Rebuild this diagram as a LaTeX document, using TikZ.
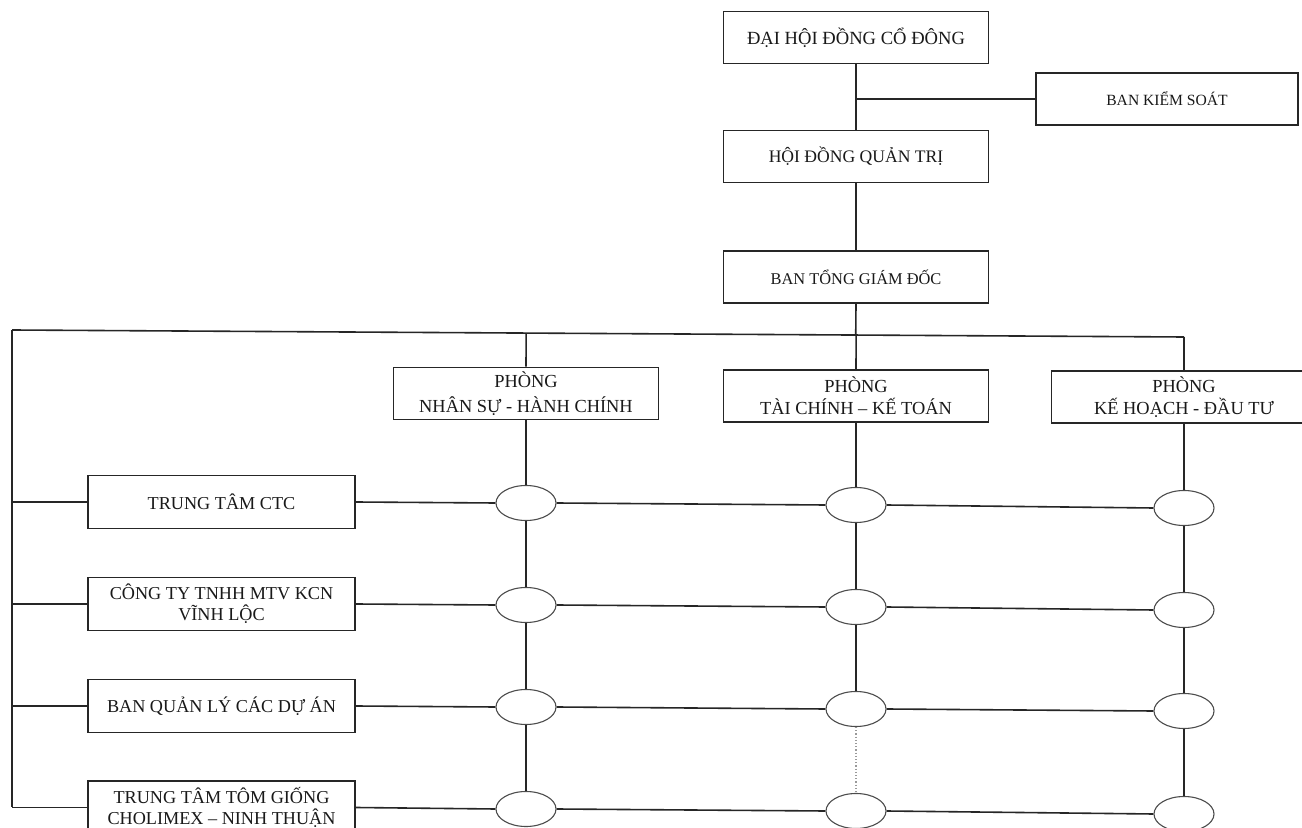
\documentclass[tikz,border=0pt]{standalone}
\usepackage{fontspec}
\setmainfont{Liberation Serif}
\usetikzlibrary{shapes.geometric,calc}
\begin{document}
\begin{tikzpicture}[x=0.5pt,y=-0.5pt,
  box/.style={draw=black!85, line width=0.8pt, inner sep=0pt, align=center, text=black!90},
  topbox/.style={box, minimum width=132.5pt, minimum height=26pt},
  deptbox/.style={box, minimum width=132.5pt, minimum height=26pt, font=\fontsize{9.2}{11}\selectfont},
  unitbox/.style={box, minimum width=133.5pt, minimum height=26.5pt, font=\fontsize{9.1}{10.5}\selectfont},
  oval/.style={ellipse, draw=black!70, line width=0.55pt, inner sep=0pt, minimum width=30pt, minimum height=17.5pt},
  conn/.style={draw=black!85, line width=0.8pt},
  faint/.style={draw=black!40, line width=0.6pt, densely dotted}]
\useasboundingbox (0,0) rectangle (1302,828);
\fill[white] (0,0) rectangle (1302,828);
\clip (0,0) rectangle (1302,828);

% top hierarchy
\node[topbox, font=\fontsize{9.3}{11}\selectfont] (dhd) at (856,37.5) {ĐẠI HỘI ĐỒNG CỔ ĐÔNG};
\node[topbox, font=\fontsize{8.8}{11}\selectfont] (hdqt) at (856,156.5) {HỘI ĐỒNG QUẢN TRỊ};
\node[topbox, font=\fontsize{8.2}{11}\selectfont] (btgd) at (856,277) {BAN TỔNG GIÁM ĐỐC};
\node[box, minimum width=131pt, minimum height=26pt, font=\fontsize{7.8}{9}\selectfont] (bks) at (1167,99) {BAN KIỂM SOÁT};

% departments
\node[deptbox, font=\fontsize{9.2}{12.5}\selectfont] (d1) at (526,393.5) {PHÒNG\\NHÂN SỰ - HÀNH CHÍNH};
\node[deptbox] (d2) at (856,396) {PHÒNG\\TÀI CHÍNH – KẾ TOÁN};
\node[deptbox] (d3) at (1184,397) {PHÒNG\\KẾ HOẠCH - ĐẦU TƯ};

% units
\node[unitbox] (u1) at (221.5,502) {TRUNG TÂM CTC};
\node[unitbox] (u2) at (221.5,604) {CÔNG TY TNHH MTV KCN\\VĨNH LỘC};
\node[unitbox] (u3) at (221.5,706) {BAN QUẢN LÝ CÁC DỰ ÁN};
\node[unitbox] (u4) at (221.5,807.5) {TRUNG TÂM TÔM GIỐNG\\CHOLIMEX – NINH THUẬN};

% ovals
\node[oval] (e11) at (526,503) {};
\node[oval] (e12) at (526,605) {};
\node[oval] (e13) at (526,707) {};
\node[oval] (e14) at (526,809) {};
\node[oval] (e21) at (856,505) {};
\node[oval] (e22) at (856,607) {};
\node[oval] (e23) at (856,709) {};
\node[oval] (e24) at (856,811) {};
\node[oval] (e31) at (1184,508) {};
\node[oval] (e32) at (1184,610) {};
\node[oval] (e33) at (1184,711) {};
\node[oval] (e34) at (1184,814) {};

% bus coordinates
\coordinate (bl) at (12,330);
\coordinate (br) at (1184,337);
\coordinate (lb) at (12,807);

% connectors: top
\draw[conn] (dhd.south) -- (hdqt.north);
\draw[conn] (hdqt.south) -- (btgd.north);
\draw[conn] (bks.west) -- (bks.west -| dhd.south);
\draw[conn] (btgd.south) -- ($(bl)!(btgd.south)!(br)$);
\draw[conn] (bl) -- (br);
\draw[conn] (d1.north) -- ($(bl)!(d1.north)!(br)$);
\draw[conn] (d2.north) -- ($(bl)!(d2.north)!(br)$);
\draw[conn] (d3.north) -- (br);

% left spine
\draw[conn] (bl) -- (lb);
\draw[conn] (u1.west) -- (u1.west -| bl);
\draw[conn] (u2.west) -- (u2.west -| bl);
\draw[conn] (u3.west) -- (u3.west -| bl);
\draw[conn] (u4.west) -- (u4.west -| bl);

% columns
\draw[conn] (d1.south) -- (e11.north);
\draw[conn] (e11.south) -- (e12.north);
\draw[conn] (e12.south) -- (e13.north);
\draw[conn] (e13.south) -- (e14.north);
\draw[conn] (d2.south) -- (e21.north);
\draw[conn] (e21.south) -- (e22.north);
\draw[conn] (e22.south) -- (e23.north);
\draw[faint] (e23.south) -- (e24.north);
\draw[conn] (d3.south) -- (e31.north);
\draw[conn] (e31.south) -- (e32.north);
\draw[conn] (e32.south) -- (e33.north);
\draw[conn] (e33.south) -- (e34.north);

% rows
\draw[conn] (u1.east) -- (e11.west);
\draw[conn] (e11.east) -- (e21.west);
\draw[conn] (e21.east) -- (e31.west);
\draw[conn] (u2.east) -- (e12.west);
\draw[conn] (e12.east) -- (e22.west);
\draw[conn] (e22.east) -- (e32.west);
\draw[conn] (u3.east) -- (e13.west);
\draw[conn] (e13.east) -- (e23.west);
\draw[conn] (e23.east) -- (e33.west);
\draw[conn] (u4.east) -- (e14.west);
\draw[conn] (e14.east) -- (e24.west);
\draw[conn] (e24.east) -- (e34.west);
\end{tikzpicture}
\end{document}
